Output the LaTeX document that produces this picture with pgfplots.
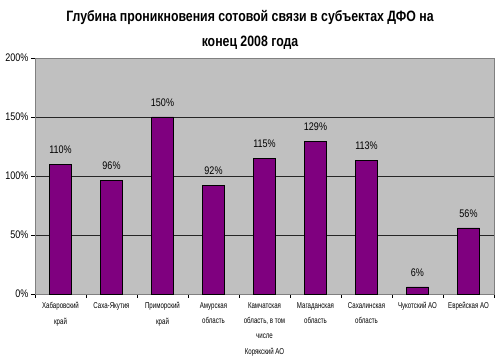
\documentclass[border=0pt]{standalone}
\usepackage{fontspec}
\setmainfont{Liberation Sans}[FakeStretch=0.82]
\newfontfamily\narrowfont{Liberation Sans}[FakeStretch=0.72]
\usepackage{pgfplots}
\pgfplotsset{compat=1.18}
\definecolor{bggray}{HTML}{C0C0C0}
\definecolor{barpurple}{HTML}{7F007F}
\begin{document}
\begin{tikzpicture}[x=1pt,y=1pt]
\useasboundingbox[fill=white] (0,0) rectangle (500,363);
\node[font=\bfseries\fontsize{15}{25}\selectfont, align=center] at (250,333)
  {Глубина проникновения сотовой связи в субъектах ДФО на\\конец 2008 года};
\begin{axis}[
  at={(35pt,69pt)}, anchor=south west,
  scale only axis, width=459pt, height=236pt,
  xmin=-0.5, xmax=8.5, ymin=0, ymax=200,
  ybar, bar width=22pt,
  axis background/.style={fill=bggray},
  axis line style={gray},
  ytick={0,50,100,150,200},
  yticklabel={\pgfmathprintnumber{\tick}\%},
  ymajorgrids, grid style={black!85, line width=0.8pt},
  xtick={0,...,8},
  xticklabels={{Хабаровский\\край},{Саха-Якутия},{Приморский\\край},{Амурская\\область},{Камчатская\\область, в том\\числе\\Корякский АО},{Магаданская\\область},{Сахалинская\\область},{Чукотский АО},{Еврейская АО}},
  minor xtick={-0.5,0.5,...,8.5},
  major x tick style={draw=none},
  minor tick length=4pt, major tick length=4pt,
  tick pos=left, tick align=outside,
  tick style={black, line width=0.6pt},
  x tick label style={font=\narrowfont\fontsize{8.5}{15.3}\selectfont, align=center, anchor=north, yshift=-1pt},
  y tick label style={font=\fontsize{11}{12}\selectfont, xshift=1pt},
  /pgf/number format/assume math mode=true,
  nodes near coords={\pgfmathprintnumber{\pgfplotspointmeta}\%},
  nodes near coords style={font=\fontsize{11}{12}\selectfont, yshift=7pt},
  clip=false,
]
\addplot[fill=barpurple, draw=black, line width=0.7pt] coordinates {
  (0,110) (1,96) (2,150) (3,92) (4,115) (5,129) (6,113) (7,6) (8,56)};
\end{axis}
\end{tikzpicture}
\end{document}
